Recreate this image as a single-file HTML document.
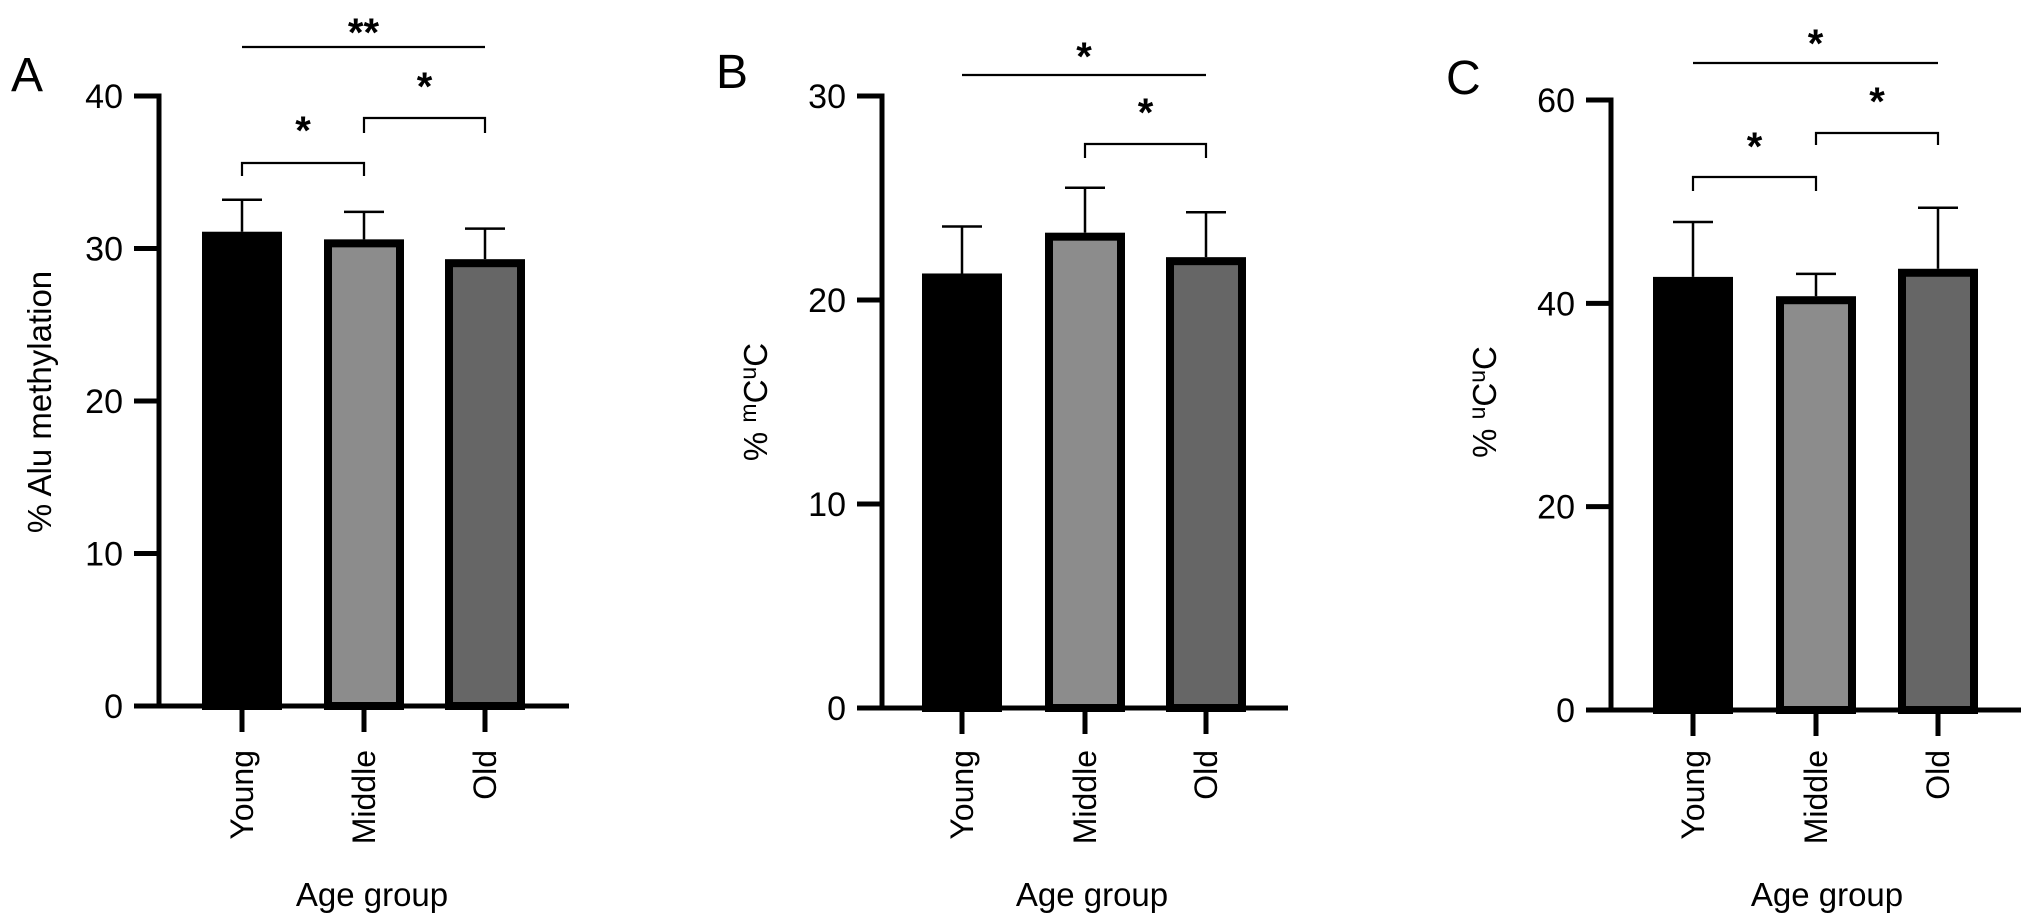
<!DOCTYPE html>
<html><head><meta charset="utf-8"><style>
html,body{margin:0;padding:0;background:#fff;width:2032px;height:922px;overflow:hidden}
svg{display:block;font-family:"Liberation Sans",Arial,sans-serif}
</style></head><body>
<svg id="fig" width="2032" height="922" viewBox="0 0 2032 922" xmlns="http://www.w3.org/2000/svg"></svg>
<script>
const categories = ["Young","Middle","Old"];
const fills = ["#000000","#8c8c8c","#666666"];
const valuesA = [31.1, 30.6, 29.3];
const errorsA = [33.2, 32.4, 31.3];
const valuesB = [21.3, 23.3, 22.1];
const errorsB = [23.6, 25.5, 24.3];
const valuesC = [42.6, 40.7, 43.4];
const errorsC = [48.0, 42.9, 49.4];
const ticksA = [0,10,20,30,40];
const ticksB = [0,10,20,30];
const ticksC = [0,20,40,60];

const NS="http://www.w3.org/2000/svg";
const svg=document.getElementById('fig');
function mk(tag,attrs,parent){const e=document.createElementNS(NS,tag);for(const k in attrs)e.setAttribute(k,attrs[k]);(parent||svg).appendChild(e);return e;}

const panels=[
 {id:'a',letter:'A',lx:11,ly:91,ax:159,y0:706,ymax:40,ytop:96,xend:569,centers:[242,364,485],vals:valuesA,errs:errorsA,ticks:ticksA,
  ylab:'% Alu methylation',ylx:40,agex:372,
  sig:[{t:'line',x1:0,x2:2,y:47,sy:26,label:'**'},{t:'br',x1:0,x2:1,y:163,leg:13,sy:124},{t:'br',x1:1,x2:2,y:118,leg:15,sy:80}]},
 {id:'b',letter:'B',lx:716,ly:88,ax:882,y0:708,ymax:30,ytop:96,xend:1288,centers:[962,1085,1206],vals:valuesB,errs:errorsB,ticks:ticksB,
  ylab:'m',ylx:756,agex:1092,
  sig:[{t:'line',x1:0,x2:2,y:75,sy:50,label:'*'},{t:'br',x1:1,x2:2,y:144,leg:14,sy:106}]},
 {id:'c',letter:'C',lx:1446,ly:94,ax:1611,y0:710,ymax:60,ytop:100,xend:2021,centers:[1693,1816,1938],vals:valuesC,errs:errorsC,ticks:ticksC,
  ylab:'u',ylx:1485,agex:1827,
  sig:[{t:'line',x1:0,x2:2,y:63,sy:37,label:'*'},{t:'br',x1:0,x2:1,y:177,leg:14,sy:140},{t:'br',x1:1,x2:2,y:133,leg:12,sy:95}]}
];

panels.forEach(p=>{
  const g=mk('g',{});
  
  
  const yS=v=>p.y0-(p.y0-p.ytop)*v/p.ymax;
  const L=mk('text',{x:p.lx,y:p.ly,'font-size':48,fill:'#000'},g);L.textContent=p.letter;
  
  
  p.vals.forEach((v,i)=>{
    const cx=p.centers[i],w=80,sw=8;
    const r=mk('rect',{x:cx-w/2+sw/2,y:yS(v)+sw/2,width:w-sw,height:p.y0-yS(v)-sw/2,fill:fills[i],stroke:'#000','stroke-width':sw},g);
    
    
    const e=mk('path',{d:`M${cx},${yS(v)} V${yS(p.errs[i])} M${cx-20},${yS(p.errs[i])} H${cx+20}`,stroke:'#000','stroke-width':2.5,fill:'none'},g);
    
    
    const t=mk('path',{d:`M${cx},${p.y0} V${p.y0+26}`,stroke:'#000','stroke-width':5},g);
    
    
    const lab=mk('text',{x:0,y:0,transform:`translate(${cx+11},750) rotate(-90)`,'font-size':32,'text-anchor':'end',fill:'#000'},g);
    lab.textContent=categories[i];
    
    
  });
  const ax=mk('path',{d:`M${p.ax},${p.ytop-2.5} V${p.y0} M${p.ax-25},${p.y0} H${p.xend}`,stroke:'#000','stroke-width':5,fill:'none'},g);
  
  
  p.ticks.forEach(tv=>{
    const t=mk('path',{d:`M${p.ax-25},${yS(tv)} H${p.ax}`,stroke:'#000','stroke-width':5},g);
    
    
    const tl=mk('text',{x:p.ax-36,y:yS(tv)+12,'font-size':34,'text-anchor':'end',fill:'#000'},g);
    tl.textContent=tv;
    
    
  });
  const yl=mk('text',{x:0,y:0,transform:`translate(${p.ylx+11},402) rotate(-90)`,'font-size':33,'text-anchor':'middle',fill:'#000'},g);
  if(p.id==='a'){yl.textContent=p.ylab;}
  else{
    yl.appendChild(document.createTextNode('% '));
    const s1=mk('tspan',{'font-size':23,dy:-11},yl);s1.textContent=p.ylab;
    const c1=mk('tspan',{dy:11},yl);c1.textContent='C';
    const s2=mk('tspan',{'font-size':23,dy:-11},yl);s2.textContent='u';
    const c2=mk('tspan',{dy:11},yl);c2.textContent='C';
  }
  
  
  const xl=mk('text',{x:p.agex,y:906,'font-size':33,'text-anchor':'middle',fill:'#000'},g);
  xl.textContent='Age group';
  
  
  p.sig.forEach(s=>{
    const xa=p.centers[s.x1],xb=p.centers[s.x2];
    let d;
    if(s.t==='line') d=`M${xa},${s.y} H${xb}`;
    else d=`M${xa},${s.y+s.leg} V${s.y} H${xb} V${s.y+s.leg}`;
    const l=mk('path',{d:d,stroke:'#000','stroke-width':2.2,fill:'none'},g);
    
    
    const st=mk('text',{x:(xa+xb)/2,y:s.sy+20,'font-size':40,'font-weight':'bold','text-anchor':'middle',fill:'#000'},g);
    st.textContent=s.label||'*';
    
    
  });
});
</script>
</body></html>
